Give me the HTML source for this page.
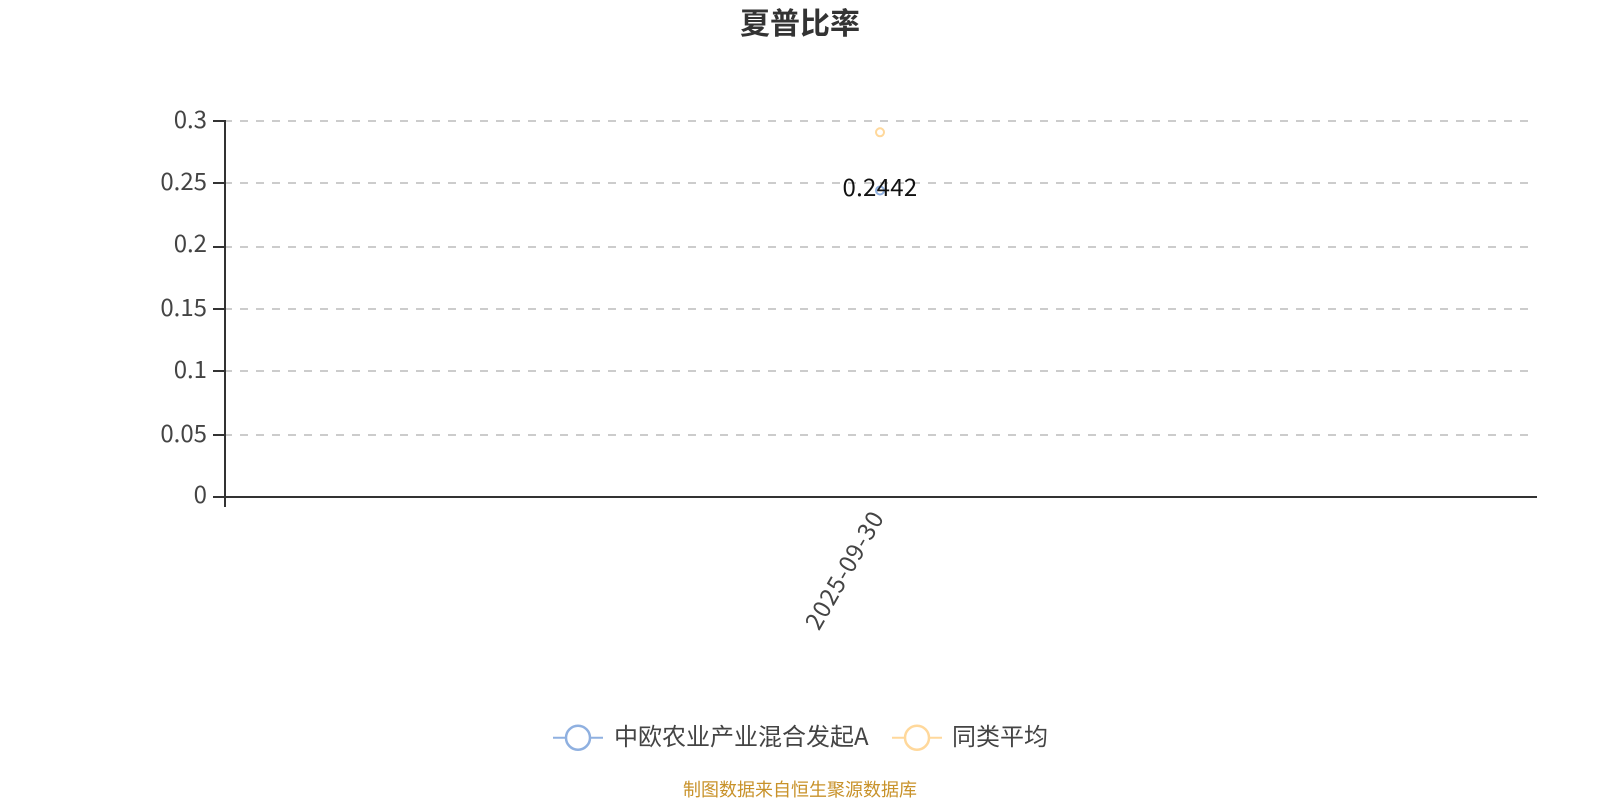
<!DOCTYPE html>
<html><head><meta charset="utf-8"><style>
html,body{margin:0;padding:0;background:#fff;width:1600px;height:800px;overflow:hidden}
svg{display:block}
text{font-family:"Noto Sans CJK SC","Liberation Sans",sans-serif}
</style></head><body>
<svg width="1600" height="800" viewBox="0 0 1600 800">
<text x="800" y="34" text-anchor="middle" font-size="30" font-weight="bold" fill="#333">夏普比率</text>
<g stroke="#ccc" stroke-width="2" stroke-dasharray="8 8" fill="none">
<path d="M224 121H1528M224 183H1528M224 247H1528M224 309H1528M224 371H1528M224 435H1528"/>
</g>
<g stroke="#333" stroke-width="2" fill="none">
<path d="M225 120V507"/>
<path d="M225 497H1537"/>
<path d="M213 121H225M213 183H225M213 247H225M213 309H225M213 371H225M213 435H225M213 497H225"/>
</g>
<g font-size="24" fill="#444" text-anchor="end">
<text x="207" y="128">0.3</text>
<text x="207" y="190">0.25</text>
<text x="207" y="252">0.2</text>
<text x="207" y="316">0.15</text>
<text x="207" y="378">0.1</text>
<text x="207" y="442">0.05</text>
<text x="207" y="503">0</text>
</g>
<circle cx="880" cy="132.3" r="4" fill="#fff" stroke="#ffd89b" stroke-width="2"/>
<circle cx="880" cy="190.5" r="4" fill="#fff" stroke="#8fb0e0" stroke-width="2"/>
<text x="880" y="196" text-anchor="middle" font-size="24" fill="#111" letter-spacing=".3">0.2442</text>
<text transform="translate(885 517) rotate(-60)" text-anchor="end" font-size="24" fill="#444" letter-spacing=".9">2025-09-30</text>
<path d="M553 737.7H603" stroke="#8fb0e0" stroke-width="2"/>
<circle cx="578" cy="737.7" r="12" fill="#fff" stroke="#8fb0e0" stroke-width="2.5"/>
<text x="614" y="745" font-size="24" fill="#444">中欧农业产业混合发起A</text>
<path d="M892 737.7H942" stroke="#ffd89b" stroke-width="2"/>
<circle cx="917" cy="737.7" r="12" fill="#fff" stroke="#ffd89b" stroke-width="2.5"/>
<text x="952" y="745" font-size="24" fill="#444">同类平均</text>
<text x="800" y="796" text-anchor="middle" font-size="18" fill="#c8922a">制图数据来自恒生聚源数据库</text>
</svg>
</body></html>
